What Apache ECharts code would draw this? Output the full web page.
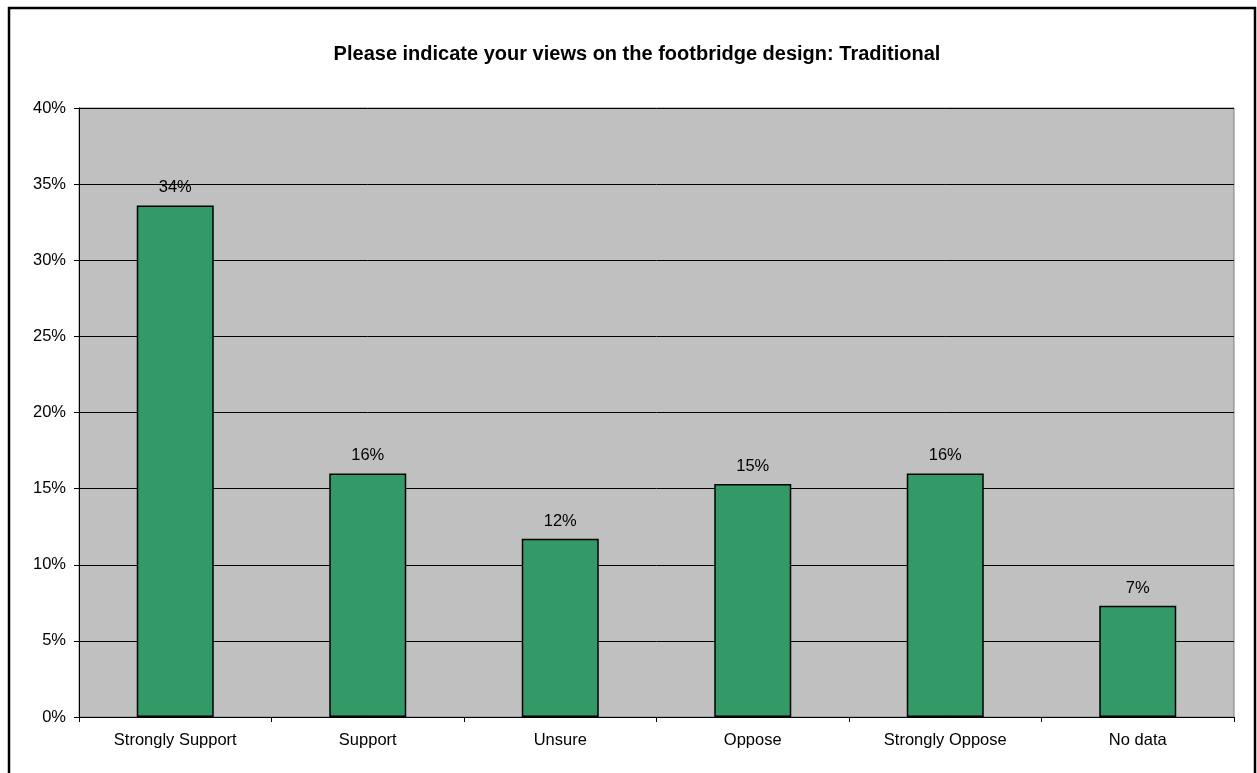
<!DOCTYPE html>
<html>
<head>
<meta charset="utf-8">
<script src="https://cdn.jsdelivr.net/npm/echarts@6/dist/echarts.min.js"></script>
<style>
  html, body { margin: 0; padding: 0; background: #fff; }
  #main { width: 1257px; height: 773px; }
</style>
</head>
<body>
<div id="main"></div>
<script>
// data (percent)
var categories = ['Strongly Support', 'Support', 'Unsure', 'Oppose', 'Strongly Oppose', 'No data'];
var values = [33.6, 16.0, 11.7, 15.3, 16.0, 7.3];
var yTicks = [0, 5, 10, 15, 20, 25, 30, 35, 40];

var chart = echarts.init(document.getElementById('main'));
var font = '"Liberation Sans", Arial, sans-serif';

var option = {
  backgroundColor: '#fff',
  animation: false,
  textStyle: { fontFamily: font },
  title: {
    text: 'Please indicate your views on the footbridge design: Traditional',
    left: 632,
    top: 39,
    textAlign: 'center',
    textStyle: { fontFamily: font, fontSize: 20, fontWeight: 'bold', color: '#000' }
  },
  graphic: [
    {
      type: 'rect',
      shape: { x: 9, y: 8, width: 1246, height: 780 },
      style: { fill: null, stroke: '#000', lineWidth: 2.5 },
      silent: true
    }
  ],
  grid: {
    left: 79, right: 23, top: 108, bottom: 56,
    show: true,
    backgroundColor: '#c0c0c0',
    borderColor: '#808080',
    borderWidth: 1
  },
  xAxis: {
    type: 'category',
    data: categories,
    axisLine: { lineStyle: { color: '#000', width: 1 } },
    axisTick: { show: true, alignWithLabel: false, length: 5, lineStyle: { color: '#000' } },
    axisLabel: { color: '#000', fontSize: 16.5, margin: 15, fontFamily: font }
  },
  yAxis: {
    type: 'value',
    min: 0,
    max: yTicks[yTicks.length - 1],
    interval: yTicks[1] - yTicks[0],
    axisLine: { show: true, lineStyle: { color: '#000', width: 1 } },
    axisTick: { show: true, length: 5, lineStyle: { color: '#000' } },
    axisLabel: { color: '#000', fontSize: 16.5, margin: 13, fontFamily: font, formatter: '{value}%' },
    splitLine: { show: true, lineStyle: { color: '#000', width: 1 } }
  },
  series: [{
    type: 'bar',
    data: values,
    barWidth: '40%',
    itemStyle: { color: '#339966', borderColor: '#000', borderWidth: 1.5 },
    label: {
      show: true,
      position: 'top',
      distance: 9,
      color: '#000',
      fontSize: 16.5,
      fontFamily: font,
      formatter: function (p) { return Math.round(p.value) + '%'; }
    }
  }]
};

chart.setOption(option);
</script>
</body>
</html>
